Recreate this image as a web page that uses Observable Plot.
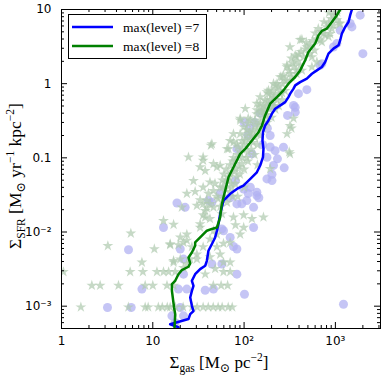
<!DOCTYPE html>
<html><head><meta charset="utf-8">
<script src="https://cdn.jsdelivr.net/npm/d3@7"></script>
<script src="https://cdn.jsdelivr.net/npm/@observablehq/plot@0.6"></script>
<style>html,body{margin:0;padding:0;background:#fff}svg{display:block}</style>
</head><body><div id="chart"></div>
<script>
// ---- data (Sigma_gas [Msun/pc^2], Sigma_SFR [Msun/yr/kpc^2]) ----
const lvl7Gas = [19.1,15.5,24.6,25.7,27.9,26.8,25.7,26.8,27.9,26.8,29.1,33.0,37.5,39.1,40.7,44.4,48.2,50.4,52.4,54.7,59.5,70.4,83.4,98.5,117,138,150,161,163,159,161,170,185,202,219,249,282,306,320,348,363,411,487,553,627,711,773,840,953,1082,1129,1178,1280,1392,1452,1517];
const lvl7Sfr = [0.00052,0.00057,0.00067,0.00078,0.00086,0.00101,0.00131,0.00161,0.00188,0.0022,0.0027,0.00316,0.00351,0.00409,0.00558,0.00689,0.00845,0.0104,0.0128,0.0175,0.0265,0.0327,0.0381,0.0423,0.052,0.0638,0.0787,0.102,0.132,0.171,0.222,0.273,0.319,0.394,0.459,0.509,0.564,0.659,0.733,0.856,0.948,1.05,1.17,1.36,1.51,1.68,1.96,2.54,2.97,3.29,3.85,4.74,5.82,6.79,8.38,10];
const lvl8Gas = [17.3,17.6,17.1,16.2,16.2,17.6,19.1,20.8,24.6,25.7,24.6,26.8,29.1,29.1,34.5,39.1,44.4,50.4,54.7,55.7,57.1,59.5,62.1,67.5,76.5,90.6,103,122,144,157,170,193,229,270,306,363,411,467,507,601,653,711,807,916,1038,1129];
const lvl8Sfr = [0.000514,0.00078,0.00096,0.00161,0.00198,0.0022,0.0027,0.00306,0.0034,0.00377,0.00454,0.0053,0.00653,0.00723,0.00891,0.0104,0.011,0.0115,0.0157,0.0194,0.0239,0.0294,0.0361,0.0547,0.0746,0.113,0.132,0.171,0.222,0.273,0.373,0.537,0.659,0.812,1.0,1.23,1.51,2.07,2.67,3.47,4.50,5.14,5.53,6.79,8.38,10];

const starPoints = [
 [1.63,.00097],[5.4,.00097],[8.25,.00097],[8.9,.00097],[11.5,.00097],[12.7,.00097],[14.4,.00097],[15.5,.00097],[17.6,.00097],[21.5,.00097],[27,.00097],[30.6,.00097],[35.6,.00097],[40.5,.00097],[45.9,.00097],[52,.00097],[57.5,.00097],[67,.00097],[74.1,.00097],
 [2.15,.0019],[2.65,.0019],[4.21,.0019],[8.25,.0019],[10,.0019],[14.3,.0019],[16.9,.0019],[46,.0019],[56,.0019],[66,.0019],
 [1.05,.0029],[5.65,.0029],[7.79,.0029],[11.1,.0029],[13.1,.0029],[14.9,.0029],[17.6,.0029],[59.5,.0029],[70.4,.0029],
 [3.22,.0065],[5.75,.0096],[10.4,.0059],[15.5,.0067],[19.1,.0067],[7.6,.0039],[16.9,.0041],[13.1,.0142],[16.9,.0126],
 [15.5,.0069],[21.7,.0072],[16.9,.0039],[35.6,.024],[39.1,.021],[46.2,.0215],[35.6,.0169],[42.3,.0151],[33,.0128],[99,.0169],[122,.0151],[163,.0158],[80.4,.0124],[99,.0115],[59.5,.007],[70.4,.0072],[54.7,.005],[59.5,.0039],[70.4,.0039],[23.6,.0093],[50.4,.0093],[42.3,.008],[35.6,.0063],[30.4,.005],[25.7,.0043],[21.7,.0033],[42.3,.0046],[48.2,.0032],[37.5,.0027],[50.4,.0063],
 [43.3,.147],[24.6,.102],[35.6,.102],[33,.075],[27.9,.049],[23.6,.033],[29.1,.035],[20.8,.0215],[30.4,.0227],[39.1,.0265],[20,.0085],[23.6,.0077],[26.8,.0063],[20,.0043],[23.6,.0037],[30.4,.0043],[37.5,.0158],[46.2,.0104],[33,.0115],[57.1,.0175],[76.5,.0158],[90.6,.0093],
 [35.6,.092],[37.5,.067],[46.2,.083],[54.7,.079],[67.5,.132],[76.5,.163],[90.6,.34],[99,.26],[111,.29],[132,.32],[163,.42],[42.3,.047],[35.6,.040],[40.7,.033],[33,.027],[42.3,.024],[37.5,.0193],[193,.071],
 [411,3.9],[318,3.12],[363,2.41],[450,2.29],[525,2.54],[590,2.82],[681,3.85],[773,4.5],[916,5.5],[840,6.5],[1038,7.2],[411,1.77],[375,1.51],[320,1.36],[295,1.68],[261,1.23],[229,1.0],[202,.81],[185,.73],[219,.70],[249,.73],[170,.60],[202,.54],[150,.48],[138,.39],[170,.37],[117,.32],[132,.27],[107,.24],[90.6,.21],[122,.20],[103,.17],[83.4,.154],[90.6,.12],[76.5,.10],[107,.10],[94.3,.083],[80.4,.071],[70.4,.06],[62.1,.047],[83.4,.055],[54.7,.040],[46.2,.036],[73.2,.04],[44.4,.154],[50.4,.075],[318,.27],[312,.12],
 [375,2.29],[295,1.77],[249,1.23],[210,1.0],[185,.81],[150,.66],[138,.54],[170,.44],[330,.25],[295,.21],
 [103,.46],[111,.34],[90.6,.32],[76.5,.21],[70.4,.17],[65,.132],[178,.77],[193,.60],[150,.54],[138,.44],[348,.34],[318,.113],[261,1.0],[295,1.1],[330,1.23],[375,1.36],[430,1.51],[553,1.68],[627,1.96],[553,2.29],[487,3.12],[742,4.74],[840,4.3],[711,3.65],[953,6.1],[1129,6.47],[1008,8.4],[953,8.4],[1100,6.5],[877,4.7],[430,3.94],
 [60,.03],[65,.025],[55,.022],[70,.035],[80,.045],[90,.06],[100,.07],[110,.09],[120,.13],[140,.15],[150,.2],[160,.25],[180,.3],[200,.35],[220,.45],[240,.5],[260,.6],[280,.8],[140,.08],[100,.04],[50,.03],[58,.04],[66,.05],[75,.03],[85,.03],
 [60,.06],[70,.08],[80,.09],[95,.13],[85,.11],[100,.15],[115,.18],[125,.23],[145,.28],[160,.35],[175,.5],[210,.65],[230,.85],[270,1.3],[340,1.9],[400,2.5],[470,2.9],[520,3.3],[620,4.0],[700,5.0],[800,5.8],[900,7.5],
 [52,.028],[62,.038],[72,.045],[68,.055],[78,.065],[88,.075],[58,.05],[48,.045],[64,.07],[75,.09],[95,.1],
 [85,.14],[95,.17],[105,.2],[115,.22],[130,.19],[125,.16],[140,.24],[150,.3],[165,.28],[110,.12],[130,.11],
 [175,.38],[190,.45],[210,.5],[180,.58],[230,.6],[200,.7],[240,.9],[260,.75],[220,.95],[155,.42],[165,.5],
 [280,1.1],[310,1.5],[350,1.7],[380,2.0],[330,2.2],[420,2.7],[480,3.6],[560,3.8],[600,4.8],[650,5.5],[750,6.8],[850,9],[1050,9.2]
];

const circlePoints = [
 [1869,8.38],[1453,6.47],[1516,5.82],[2000,2.54],[1038,3.47],[953,3.12],[1129,5.25],[681,1.77],[711,1.86],[487,.83],[394,.733],[363,.413],[363,.48],[299,.373],[348,.509],[270,.139],[275,.0733],[232,.097],[178,.102],[202,.0493],[178,.052],[138,.0343],[138,.031],[145,.029],[111,.033],[117,.0401],[127,.0215],[107,.0265],[122,.113],[83.4,.132],[193,.2],[193,.14],[219,.125],[210,.079],[202,.06],
 [80.4,.049],[99,.038],[70.4,.029],[94.3,.024],[54.7,.033],[130,.3],[150,.4],[180,.25],[200,.5],[110,.2],[160,.15],[100,.3],[115,.25],
 [101,.00145],[83.4,.0027],[83.4,.00589],[76.5,.00638],[46.2,.0017],[37.5,.00164],[44.4,.0037],[57.1,.0037],[59.5,.0104],[70.4,.00845],[83.4,.0239],[44.4,.0251],[40.7,.0265],[22.6,.0215],[18.4,.0246],[13.1,.0115],[5.42,.00576],[20,.00589],[21.7,.00431],[21.7,.0027],[7.6,.0017],[19.1,.0017],[23.6,.0017],[3.19,.00096],[5.8,.00096],[20,.00096],[16.2,.00074],[17.6,.0006],[21.7,.00074],[1227,.00106],[57.1,.011],[127,.0115]
];

const xMajor = [1,10,100,1000];
const xMinor = [2,3,4,5,6,7,8,9,20,30,40,50,60,70,80,90,200,300,400,500,600,700,800,900,2000,3000];
const yMajor = [0.001,0.01,0.1,1,10];
const yMinor = [0.0006,0.0007,0.0008,0.0009,0.002,0.003,0.004,0.005,0.006,0.007,0.008,0.009,0.02,0.03,0.04,0.05,0.06,0.07,0.08,0.09,0.2,0.3,0.4,0.5,0.6,0.7,0.8,0.9,2,3,4,5,6,7,8,9];
const xLabels = new Map([[1,"1"],[10,"10"],[100,"10²"],[1000,"10³"]]);
const yLabels = new Map([[0.001,"10⁻³"],[0.01,"10⁻²"],[0.1,"0.1"],[1,"1"],[10,"10"]]);
const seriesNames = ["max(level) =7","max(level) =8"];
const seriesColors = ["#0000ff","#008000"];

// ---- layout ----
const W = 386, H = 386, mL = 61, mR = 6, mT = 9, mB = 58;
const fw = W - mL - mR, fh = H - mT - mB;
const toRows = (xs, ys) => xs.map((x, i) => ({x, y: ys[i]}));

const svg = Plot.plot({
  width: W, height: H,
  marginLeft: mL, marginRight: mR, marginTop: mT, marginBottom: mB,
  x: {type: "log", domain: [1, 3120]},
  y: {type: "log", domain: [5e-4, 10]},
  style: {fontFamily: "DejaVu Sans", fontSize: "12px", background: "#fff", color: "#000"},
  marks: [
    Plot.dot(circlePoints, {x: d => d[0], y: d => d[1], r: 4.5, fill: "#b2b2f2", fillOpacity: 0.75, clip: true}),
    Plot.dot(starPoints, {x: d => d[0], y: d => d[1], symbol: "star", r: 3.4, fill: "#b0cbb0", fillOpacity: 0.72, clip: true}),
    Plot.line(toRows(lvl7Gas, lvl7Sfr), {x: "x", y: "y", stroke: seriesColors[0], strokeWidth: 2.5, clip: true}),
    Plot.line(toRows(lvl8Gas, lvl8Sfr), {x: "x", y: "y", stroke: seriesColors[1], strokeWidth: 2.5, clip: true}),
    Plot.frame({stroke: "#000", strokeWidth: 1}),
    Plot.tickX(xMajor, {x: d => d, insetTop: fh - 6, stroke: "#000"}),
    Plot.tickX(xMajor, {x: d => d, insetBottom: fh - 6, stroke: "#000"}),
    Plot.tickX(xMinor, {x: d => d, insetTop: fh - 3, stroke: "#000"}),
    Plot.tickX(xMinor, {x: d => d, insetBottom: fh - 3, stroke: "#000"}),
    Plot.tickY(yMajor, {y: d => d, insetRight: fw - 6, stroke: "#000"}),
    Plot.tickY(yMajor, {y: d => d, insetLeft: fw - 6, stroke: "#000"}),
    Plot.tickY(yMinor, {y: d => d, insetRight: fw - 3, stroke: "#000"}),
    Plot.tickY(yMinor, {y: d => d, insetLeft: fw - 3, stroke: "#000"}),
    Plot.axisX({ticks: xMajor, tickFormat: d => xLabels.get(d), tickSize: 0, tickPadding: 8, label: null}),
    Plot.axisY({ticks: yMajor, tickFormat: d => yLabels.get(d), tickSize: 0, tickPadding: 10, label: null})
  ]
});

const s = d3.select(svg);
const serif = "'Liberation Serif', 'DejaVu Serif', serif";

// x axis label
const xl = s.append("text").attr("x", 219).attr("y", 368).attr("text-anchor", "middle")
  .attr("font-family", serif).attr("font-size", 17).attr("fill", "#000");
xl.append("tspan").text("Σ");
xl.append("tspan").attr("font-size", 11.5).attr("dy", 4).text("gas");
xl.append("tspan").attr("dy", -4).text(" [M");
xl.append("tspan").attr("font-size", 12.5).attr("dy", 4).text("⊙");
xl.append("tspan").attr("dy", -4).text(" pc");
xl.append("tspan").attr("font-size", 11.5).attr("dy", -7).text("−2");
xl.append("tspan").attr("dy", 7).text("]");

// y axis label
const yl = s.append("text").attr("transform", "translate(21,176) rotate(-90)").attr("text-anchor", "middle")
  .attr("font-family", serif).attr("font-size", 17.5).attr("fill", "#000");
yl.append("tspan").text("Σ");
yl.append("tspan").attr("font-size", 11.5).attr("dy", 4).text("SFR");
yl.append("tspan").attr("dy", -4).text(" [M");
yl.append("tspan").attr("font-size", 12.5).attr("dy", 4).text("⊙");
yl.append("tspan").attr("dy", -4).text(" yr");
yl.append("tspan").attr("font-size", 11.5).attr("dy", -7).text("−1");
yl.append("tspan").attr("dy", 7).text(" kpc");
yl.append("tspan").attr("font-size", 11.5).attr("dy", -7).text("−2");
yl.append("tspan").attr("dy", 7).text("]");

// legend
const lg = s.append("g");
lg.append("rect").attr("x", 68.5).attr("y", 14.5).attr("width", 138).attr("height", 44)
  .attr("fill", "#fff").attr("stroke", "#000").attr("stroke-width", 1);
seriesNames.forEach((name, i) => {
  const yy = 27 + i * 19;
  lg.append("line").attr("x1", 72).attr("x2", 113).attr("y1", yy).attr("y2", yy)
    .attr("stroke", seriesColors[i]).attr("stroke-width", 2.5);
  lg.append("text").attr("x", 123).attr("y", yy + 4.5).attr("text-anchor", "start")
    .attr("font-family", serif).attr("font-size", 13.5).attr("fill", "#000").text(name);
});

document.getElementById("chart").appendChild(svg);
</script>
</body></html>
